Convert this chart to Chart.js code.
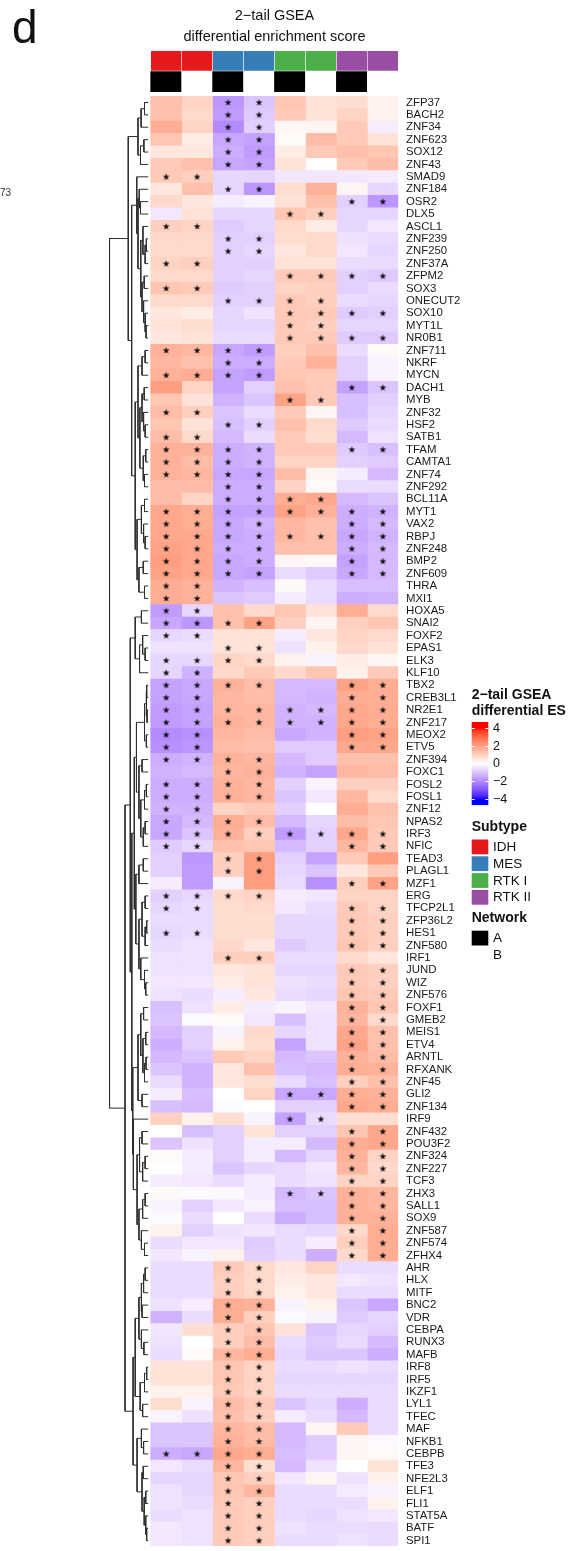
<!DOCTYPE html>
<html>
<head>
<meta charset="utf-8">
<title>2-tail GSEA differential enrichment score</title>
<script src="https://cdn.jsdelivr.net/npm/chart.js@4.4.1/dist/chart.umd.min.js"></script>
<style>
  html, body { margin: 0; padding: 0; background: #ffffff; }
  canvas { display: block; }
</style>
</head>
<body>
<canvas id="heatmap" width="585" height="1551"></canvas>
<script>
// ---------------------------------------------------------------------------
// Data
// ---------------------------------------------------------------------------
const genes = [
  'ZFP37','BACH2','ZNF34','ZNF623','SOX12','ZNF43','SMAD9','ZNF184','OSR2','DLX5',
  'ASCL1','ZNF239','ZNF250','ZNF37A','ZFPM2','SOX3','ONECUT2','SOX10','MYT1L','NR0B1',
  'ZNF711','NKRF','MYCN','DACH1','MYB','ZNF32','HSF2','SATB1','TFAM','CAMTA1',
  'ZNF74','ZNF292','BCL11A','MYT1','VAX2','RBPJ','ZNF248','BMP2','ZNF609','THRA',
  'MXI1','HOXA5','SNAI2','FOXF2','EPAS1','ELK3','KLF10','TBX2','CREB3L1','NR2E1',
  'ZNF217','MEOX2','ETV5','ZNF394','FOXC1','FOSL2','FOSL1','ZNF12','NPAS2','IRF3',
  'NFIC','TEAD3','PLAGL1','MZF1','ERG','TFCP2L1','ZFP36L2','HES1','ZNF580','IRF1',
  'JUND','WIZ','ZNF576','FOXF1','GMEB2','MEIS1','ETV4','ARNTL','RFXANK','ZNF45',
  'GLI2','ZNF134','IRF9','ZNF432','POU3F2','ZNF324','ZNF227','TCF3','ZHX3','SALL1',
  'SOX9','ZNF587','ZNF574','ZFHX4','AHR','HLX','MITF','BNC2','VDR','CEBPA',
  'RUNX3','MAFB','IRF8','IRF5','IKZF1','LYL1','TFEC','MAF','NFKB1','CEBPB',
  'TFE3','NFE2L3','ELF1','FLI1','STAT5A','BATF','SPI1'
];

// column annotations
const subtypes = ['IDH', 'IDH', 'MES', 'MES', 'RTK I', 'RTK I', 'RTK II', 'RTK II'];
const networks = ['A', 'B', 'A', 'B', 'A', 'B', 'A', 'B'];
const subtypeLevels = ['IDH', 'MES', 'RTK I', 'RTK II'];
const networkLevels = ['A', 'B'];

// differential enrichment score per column (rows follow `genes`)
const esIdhA = [
  1.3, 1.3, 1.7, 1.2, 0.5, 1.1, 1.1, 0.5, 0.8, -0.4,
  1.0, 0.8, 0.8, 0.9, 0.8, 1.2, 0.8, 0.5, 0.6, 0.5,
  1.6, 1.5, 1.6, 2.0, 1.2, 1.4, 1.2, 1.4, 1.6, 1.6,
  1.6, 1.4, 1.4, 1.8, 1.8, 1.8, 1.9, 2.0, 1.9, 1.7,
  1.7, -1.7, -1.5, -0.7, -0.5, -0.7, -0.7, -1.6, -1.6, -1.7,
  -1.7, -2.0, -1.9, -1.4, -1.3, -1.4, -1.4, -1.3, -1.5, -1.5,
  -0.9, -0.8, -0.8, -0.3, -0.8, -0.7, -0.6, -0.7, -0.6, -0.5,
  -0.5, -0.4, -0.5, -1.1, -1.0, -1.2, -1.4, -1.2, -1.0, -0.6,
  -0.3, -1.1, 1.0, 0.0, -1.0, 0.1, 0.0, -0.3, 0.1, -0.2,
  -0.1, 0.3, -0.6, -0.4, -0.6, -0.6, -0.6, -0.5, -1.3, -0.4,
  -0.5, -0.6, 0.6, 0.6, 0.3, 0.7, -0.2, -1.0, -1.0, -1.4,
  -0.4, -0.7, -0.5, -0.5, -0.6, -0.4, -0.4
];
const esIdhB = [
  0.9, 0.8, 0.9, 0.4, 0.5, 1.3, 1.0, 1.3, 0.5, 0.6,
  0.9, 0.8, 0.8, 1.0, 0.8, 1.1, 0.8, 0.4, 0.7, 0.6,
  1.5, 1.3, 1.7, 0.9, 0.6, 1.0, 0.6, 0.8, 1.6, 1.4,
  1.5, 1.4, 0.9, 1.7, 1.7, 1.8, 1.8, 1.8, 1.8, 1.6,
  1.6, -0.7, -1.8, -0.6, -0.5, -0.7, -1.3, -1.5, -1.5, -1.6,
  -1.6, -1.9, -1.8, -1.3, -1.2, -1.4, -1.4, -1.3, -1.2, -1.0,
  -0.7, -1.8, -1.7, -1.7, -0.7, -0.6, -0.6, -0.6, -0.5, -0.5,
  -0.5, -0.4, -0.6, -0.5, -0.1, -0.8, -0.8, -1.0, -1.3, -1.3,
  -1.1, -1.2, 0.3, -1.1, -0.5, -0.3, -0.3, -0.4, -0.1, -0.8,
  -0.6, -0.8, -0.4, -0.2, -0.6, -0.6, -0.6, -0.3, -0.6, 0.7,
  0.0, 0.1, 0.6, 0.6, 0.3, -0.2, -0.5, -1.0, -1.0, -1.5,
  -0.6, -0.7, -0.7, -0.6, -0.5, -0.5, -0.5
];
const esMesA = [
  -1.8, -1.7, -2.0, -1.5, -1.4, -1.5, -0.7, -0.7, -0.3, -0.7,
  -0.9, -0.8, -0.8, -0.8, -0.8, -0.9, -0.8, -0.7, -0.7, -0.6,
  -1.5, -1.4, -1.6, -1.6, -1.3, -1.0, -1.1, -1.2, -1.4, -1.4,
  -1.5, -1.4, -1.4, -1.6, -1.5, -1.5, -1.4, -1.5, -1.5, -1.3,
  -1.0, 1.3, 1.3, 0.6, 0.6, 0.9, 0.8, 1.6, 1.5, 1.5,
  1.6, 1.5, 1.4, 1.6, 1.5, 1.6, 1.6, 0.9, 1.7, 1.6,
  1.3, 1.0, 1.0, -0.2, 0.8, 0.7, 0.7, 0.7, 0.8, 1.0,
  0.5, 0.4, -0.3, 0.4, 0.1, -0.2, 0.3, 1.1, 0.5, 0.5,
  0.0, -0.1, 0.7, -0.8, -0.8, -0.8, -1.0, -0.6, -0.1, -0.4,
  0.0, -0.5, -0.4, 0.3, 1.1, 1.0, 1.0, 1.7, 1.7, 1.0,
  1.0, 1.5, 1.2, 1.2, 1.1, 1.4, 1.3, 1.5, 1.6, 1.8,
  1.5, 1.2, 1.2, 1.1, 1.1, 1.1, 1.1
];
const esMesB = [
  -1.0, -0.9, -0.8, -1.6, -1.7, -1.6, -0.7, -1.8, -0.2, -0.7,
  -0.7, -0.8, -0.7, -0.8, -0.7, -0.8, -0.8, -0.5, -0.7, -0.6,
  -1.7, -1.4, -1.7, -0.8, -1.0, -0.6, -0.8, -0.6, -1.3, -1.3,
  -1.5, -1.4, -1.4, -1.6, -1.3, -1.4, -1.4, -1.4, -1.6, -1.1,
  -0.9, 0.8, 1.9, 0.6, 0.6, 0.8, 1.1, 1.4, 1.4, 1.5,
  1.5, 1.4, 1.3, 1.5, 1.6, 1.5, 1.5, 1.1, 1.4, 1.0,
  1.2, 2.0, 2.0, 2.0, 0.9, 0.8, 0.7, 0.7, 0.5, 1.0,
  0.6, 0.6, 0.5, -0.3, -0.4, 0.8, 0.7, 0.9, 1.3, 0.7,
  0.9, 0.0, -0.2, 0.6, -0.3, -0.3, -0.7, -0.3, -0.3, -0.2,
  -0.6, -0.4, -0.9, -0.8, 0.8, 0.8, 0.8, 1.6, 1.0, 1.2,
  1.4, 1.7, 0.9, 0.9, 0.9, 1.1, 1.0, 1.4, 1.4, 1.7,
  0.7, 1.0, 1.5, 1.0, 1.0, 1.0, 1.0
];
const esRtk1A = [
  1.2, 1.1, 0.2, 0.1, 0.4, 0.6, -0.4, 0.7, 0.6, 1.2,
  0.8, 0.7, 0.5, 0.6, 1.1, 0.9, 1.1, 1.1, 1.1, 1.1,
  1.0, 1.1, 1.2, 1.3, 1.9, 1.1, 1.3, 1.1, 1.1, 0.9,
  1.4, 0.9, 1.7, 1.9, 1.5, 1.5, 1.3, 0.2, -0.6, 0.1,
  -0.3, 1.2, 1.0, -0.3, -0.5, 0.3, 0.8, -1.2, -1.2, -1.3,
  -1.3, -1.5, -0.9, -1.2, -1.3, -0.8, -1.0, -0.8, -1.2, -1.7,
  -1.2, -0.8, -0.7, -0.6, -0.3, -0.4, -0.7, -0.7, -0.9, -0.6,
  -0.7, -0.5, -0.6, -0.2, -1.1, -0.7, -1.6, -1.2, -1.1, -0.6,
  -1.5, -0.8, -1.6, -0.8, -0.3, -1.2, -0.6, -0.6, -1.2, -1.1,
  -1.4, -0.6, -0.6, -0.6, 0.5, 0.4, 0.3, -0.2, -0.1, 0.6,
  -0.6, -0.7, -0.6, -0.7, -0.6, -1.0, -0.3, -1.2, -1.2, -1.1,
  -1.2, -0.4, -0.6, -0.6, -0.6, -0.5, -0.6
];
const esRtk1B = [
  0.6, 0.6, 0.2, 1.4, 1.1, 0.0, -0.4, 1.6, 1.3, 1.0,
  0.4, 0.8, 0.8, 0.6, 1.1, 1.0, 1.0, 1.1, 1.0, 1.1,
  1.3, 1.6, 1.1, 1.1, 1.1, 0.2, 0.8, 0.7, 1.1, 0.9,
  0.2, 0.1, 1.8, 1.6, 1.3, 1.3, 1.3, 0.1, -0.9, -0.6,
  -0.6, 0.6, 0.2, 0.5, 0.3, -0.2, 1.2, -1.2, -1.3, -1.2,
  -1.3, -1.3, -0.9, -0.9, -1.6, -0.2, -0.4, 0.0, -0.7, -0.8,
  -0.8, -1.6, -1.0, -1.9, -0.4, -0.6, -0.7, -0.7, -0.7, -0.6,
  -0.7, -0.6, -0.7, -0.4, -0.5, -0.5, -0.5, -1.0, -1.2, -1.1,
  -1.5, -0.8, -0.6, -0.8, -1.2, -0.7, -0.4, -0.5, -1.0, -1.1,
  -1.1, -0.7, -0.3, -1.4, 0.9, 0.5, 0.5, 0.3, -0.2, -1.0,
  -0.9, -1.0, -0.6, -0.7, -0.6, -0.7, -0.6, 0.2, -0.9, -0.9,
  -0.5, 0.2, -0.6, -0.6, -0.7, -0.6, -0.6
];
const esRtk2A = [
  0.7, 0.9, 1.1, 1.1, 1.3, 1.1, -0.4, 0.2, -0.8, -0.7,
  -0.7, -0.5, -0.4, -0.6, -0.8, -0.8, -0.6, -0.9, -0.7, -0.9,
  -0.6, -0.8, -0.8, -1.6, -1.1, -1.1, -0.9, -1.2, -0.9, -0.8,
  -0.3, -0.6, -1.2, -1.4, -1.4, -1.5, -1.4, -1.6, -1.5, -1.1,
  -1.4, 1.7, 1.0, 0.9, 0.8, 0.4, 0.3, 1.9, 1.7, 1.8,
  1.8, 2.0, 1.8, 1.3, 1.5, 1.0, 1.5, 1.7, 1.4, 1.8,
  1.5, 1.1, 0.5, 1.0, 0.9, 1.1, 1.1, 1.1, 1.2, 0.8,
  1.1, 1.1, 1.2, 1.6, 1.5, 1.8, 1.9, 1.6, 1.7, 1.0,
  1.7, 1.8, 0.7, 1.2, 1.7, 1.6, 1.5, 0.9, 1.6, 1.6,
  1.6, 0.8, 1.0, 0.8, -0.6, -0.4, -0.6, -1.0, -0.9, -0.7,
  -0.6, -1.0, -0.5, -0.7, -0.6, -1.4, -1.2, 1.1, 0.2, 0.2,
  0.0, -0.5, -0.3, -0.6, -0.5, -0.6, -0.5
];
const esRtk2B = [
  0.3, 0.3, -0.3, 0.6, 1.2, 1.4, -0.3, -0.7, -1.8, -0.7,
  -0.4, -0.6, -0.7, -0.6, -0.9, -0.6, -0.7, -0.8, -0.7, -0.9,
  0.1, -0.2, -0.2, -1.0, -0.8, -0.7, -0.6, -0.5, -1.1, -0.9,
  -1.2, -0.6, -1.0, -1.3, -1.2, -1.3, -1.2, -1.2, -1.2, -1.1,
  -1.3, 0.8, 1.2, 0.8, 0.6, 0.2, 1.1, 1.7, 1.7, 1.7,
  1.7, 1.9, 1.8, 1.3, 1.4, 1.0, 0.8, 1.3, 1.2, 1.1,
  1.1, 2.0, 1.1, 1.9, 0.9, 0.9, 1.0, 1.0, 1.0, 0.5,
  1.0, 1.0, 1.1, 1.2, 0.8, 1.3, 1.3, 1.4, 1.6, 1.3,
  1.6, 1.7, 0.7, 1.8, 1.8, 0.9, 0.8, 0.9, 1.5, 1.5,
  1.6, 1.7, 1.7, 1.7, -0.6, -0.5, -0.6, -1.5, -0.7, -0.8,
  -1.2, -1.4, -0.6, -0.7, -0.6, -0.6, -0.6, -0.6, -0.1, 0.1,
  0.6, 0.3, -0.2, 0.3, -0.4, -0.6, -0.6
];
const esColumns = [esIdhA, esIdhB, esMesA, esMesB, esRtk1A, esRtk1B, esRtk2A, esRtk2B];

// significance per gene, one character per column ('*' = significant)
const stars = [
  '..**....', '..**....', '..**....', '..**....', '..**....', '..**....', '**......', '..**....', '......**', '....**..',
  '**......', '..**....', '..**....', '**......', '....****', '**......', '..****..', '....****', '....**..', '....****',
  '****....', '..**....', '****....', '......**', '....**..', '**......', '..**....', '**......', '****..**', '****....',
  '****....', '..**....', '..****..', '********', '****..**', '********', '****..**', '****..**', '****..**', '**......',
  '**......', '**......', '****....', '**......', '..**....', '****....', '**......', '****..**', '**....**', '********',
  '********', '**....**', '**....**', '****....', '..**....', '****....', '****....', '**......', '****....', '********',
  '**....**', '..**....', '..**....', '......**', '****....', '**....**', '......**', '**....**', '......**', '..**....',
  '......**', '......**', '......**', '......**', '......**', '......**', '......**', '......**', '......**', '......**',
  '....****', '......**', '....**..', '......**', '......**', '......**', '......**', '......**', '....****', '......**',
  '......**', '......**', '......**', '......**', '..**....', '..**....', '..**....', '..**....', '..**....', '..**....',
  '..**....', '..**....', '..**....', '..**....', '..**....', '..**....', '..**....', '..**....', '..**....', '****....',
  '..**....', '..**....', '..**....', '..**....', '..**....', '..**....', '..**....'
];

// row clustering: [mergeHeight, left, right]; integers are gene indices
const clusterTopA = [0.33, [0.23, [0.12, 0, 1], 2], [0.25, [0.14, 3, 4], 5]];
const clusterTopB = [0.37, 6, [0.33, [0.29, 7, [0.25, 8, 9]],
  [0.24, [0.17, 10, [0.1, [0.06, 11, 12], 13]], [0.2, [0.13, 14, 15], [0.15, 16, [0.1, 17, [0.07, 18, 19]]]]]]];
const clusterTopC = [0.42,
  [0.33, [0.2, [0.1, 20, 21], 22], [0.27, [0.2, [0.13, 23, 24], [0.15, 25, [0.1, 26, 27]]], [0.16, [0.08, 28, 29], [0.12, 30, 31]]]],
  [0.36, [0.22, [0.12, 32, 33], [0.15, 34, [0.1, 35, 36]]], [0.3, [0.16, 37, 38], [0.12, 39, 40]]]];
const clusterMidA = [0.42, [0.22, 41, 42], [0.28, [0.18, 43, [0.1, 44, 45]], 46]];
const clusterMidB = [0.12, [0.07, [0.05, 47, 48], [0.04, 49, 50]], [0.06, 51, 52]];
const clusterMidC = [0.3, [0.2, 53, 54], [0.24, [0.12, [0.06, 55, 56], 57], [0.16, [0.1, 58, 59], 60]]];
const clusterMidD = [0.3, [0.16, 61, 62], 63];
const clusterMidE = [0.3, [0.2, [0.1, 64, 65], [0.1, [0.05, 66, 67], 68]], [0.24, 69, [0.12, 70, [0.08, 71, 72]]]];
const clusterMidF = [0.33, [0.24, [0.15, 73, 74], [0.17, [0.08, 75, 76], [0.12, [0.07, 77, 78], 79]]], [0.2, 80, 81]];
const clusterMidG = [0.36, [0.28, [0.2, 83, 84], [0.18, [0.1, 85, 86], 87]],
  [0.3, [0.18, [0.1, 88, 89], 90], [0.22, 91, [0.12, 92, 93]]]];
const clusterLowA = [0.42,
  [0.3, [0.22, [0.15, [0.1, 94, 95], 96], [0.2, 97, 98]], [0.22, 99, [0.14, 100, 101]]],
  [0.26, [0.12, [0.05, 102, 103], 104], [0.18, 105, 106]]];
const clusterLowB = [0.36, [0.22, 107, [0.15, 108, 109]],
  [0.2, [0.16, 110, 111], [0.13, [0.08, 112, 113], [0.08, 114, [0.05, 115, 116]]]]];

const dendrogram = [1.25,
  [0.645, clusterTopA, [0.535, clusterTopB, clusterTopC]],
  [0.75,
    [0.58, clusterMidA,
      [0.53,
        [0.45, [0.38, clusterMidB, clusterMidC], [0.4, clusterMidD, clusterMidE]],
        [0.5, clusterMidF, [0.48, 82, clusterMidG]]]],
    [0.49, clusterLowA, clusterLowB]]];

const legendTicks = [4, 2, 0, -2, -4];

// ---------------------------------------------------------------------------
// Colours
// ---------------------------------------------------------------------------
const subtypeColors = { 'IDH': '#E41A1C', 'MES': '#377EB8', 'RTK I': '#4DAF4A', 'RTK II': '#984EA3' };
const networkColors = { 'A': '#000000', 'B': '#FFFFFF' };
const ES_LIMIT = 4;

function toLinear(c) { c /= 255; return c <= 0.04045 ? c / 12.92 : Math.pow((c + 0.055) / 1.055, 2.4); }
function toSrgb(c) {
  c = Math.max(0, Math.min(1, c));
  return Math.round(255 * (c <= 0.0031308 ? 12.92 * c : 1.055 * Math.pow(c, 1 / 2.4) - 0.055));
}
function rgbToLab(rgb) {
  const [R, G, B] = rgb.map(toLinear);
  const X = (0.4124 * R + 0.3576 * G + 0.1805 * B) / 0.95047;
  const Y = (0.2126 * R + 0.7152 * G + 0.0722 * B);
  const Z = (0.0193 * R + 0.1192 * G + 0.9505 * B) / 1.08883;
  const f = t => t > 0.008856 ? Math.cbrt(t) : 7.787 * t + 16 / 116;
  return [116 * f(Y) - 16, 500 * (f(X) - f(Y)), 200 * (f(Y) - f(Z))];
}
function labToRgb([L, a, b]) {
  const fy = (L + 16) / 116, fx = fy + a / 500, fz = fy - b / 200;
  const inv = t => (t * t * t > 0.008856 ? t * t * t : (t - 16 / 116) / 7.787);
  const X = 0.95047 * inv(fx), Y = inv(fy), Z = 1.08883 * inv(fz);
  return [
    toSrgb(3.2406 * X - 1.5372 * Y - 0.4986 * Z),
    toSrgb(-0.9689 * X + 1.8758 * Y + 0.0415 * Z),
    toSrgb(0.0557 * X - 0.2040 * Y + 1.0570 * Z)
  ];
}
const LAB_WHITE = rgbToLab([255, 255, 255]);
const LAB_RED = rgbToLab([255, 0, 0]);
const LAB_BLUE = rgbToLab([0, 0, 255]);

// diverging blue - white - red ramp, interpolated in Lab space
function esColor(v) {
  const t = Math.min(1, Math.abs(v) / ES_LIMIT);
  const end = v >= 0 ? LAB_RED : LAB_BLUE;
  const lab = LAB_WHITE.map((w, i) => w + (end[i] - w) * t);
  const [r, g, b] = labToRgb(lab);
  return `rgb(${r},${g},${b})`;
}

// ---------------------------------------------------------------------------
// Geometry helpers (axis units)
// ---------------------------------------------------------------------------
const Y_MIN = -3.674, Y_MAX = 116.93;
const X_MIN = -1.42, X_MAX = 8;
const SUBTYPE_BAND = [-3.674, -2.04];
const NETWORK_BAND = [-1.99, -0.36];
const LEAF_GAP = 0.08;
const FONT = '"Liberation Sans", Arial, Helvetica, sans-serif';

// rectangular dendrogram polylines, children joined at their parent height
function dendroSegments(node, out) {
  if (!Array.isArray(node)) return { y: node + 0.5, h: 0 };
  const [h, l, r] = node;
  const a = dendroSegments(l, out);
  const b = dendroSegments(r, out);
  const px = -(LEAF_GAP + h);
  out.push({ x: -(LEAF_GAP + a.h), y: a.y }, { x: px, y: a.y },
           { x: px, y: b.y }, { x: -(LEAF_GAP + b.h), y: b.y },
           { x: null, y: null });
  return { y: (a.y + b.y) / 2, h };
}
const dendroPoints = [];
dendroSegments(dendrogram, dendroPoints);

// small filled star used for significant cells
function makeStar() {
  const s = document.createElement('canvas');
  s.width = 9; s.height = 9;
  const g = s.getContext('2d');
  g.fillStyle = '#111111';
  g.beginPath();
  for (let i = 0; i < 10; i++) {
    const rad = i % 2 ? 1.45 : 3.6;
    const ang = -Math.PI / 2 + i * Math.PI / 5;
    const px = 4.5 + rad * Math.cos(ang), py = 4.7 + rad * Math.sin(ang);
    if (i === 0) g.moveTo(px, py); else g.lineTo(px, py);
  }
  g.closePath();
  g.fill();
  return s;
}

// ---------------------------------------------------------------------------
// Datasets
// ---------------------------------------------------------------------------
const cellDatasets = esColumns.map((vals, c) => ({
  label: subtypes[c] + ' ' + networks[c],
  order: 3,
  data: vals.map((v, r) => ({ x: c + 0.5, y: [r, r + 1] })),
  backgroundColor: vals.map(esColor),
  borderWidth: 0,
  barPercentage: 1,
  categoryPercentage: 1,
  grouped: false
}));

const annotationDatasets = [
  {
    label: 'Subtype', order: 3, grouped: false, barPercentage: 1, categoryPercentage: 1,
    data: subtypes.map((s, c) => ({ x: c + 0.5, y: SUBTYPE_BAND })),
    backgroundColor: subtypes.map(s => subtypeColors[s]),
    borderColor: 'rgba(255,255,255,0.45)', borderWidth: 0.6, borderSkipped: false
  },
  {
    label: 'Network', order: 3, grouped: false, barPercentage: 1, categoryPercentage: 1,
    data: networks.map((n, c) => ({ x: c + 0.5, y: NETWORK_BAND })),
    backgroundColor: networks.map(n => networkColors[n]),
    borderWidth: 0
  }
];

const starPoints = [];
stars.forEach((row, r) => {
  for (let c = 0; c < row.length; c++) {
    if (row[c] === '*') starPoints.push({ x: c + 0.5, y: r + 0.5 });
  }
});

const starDataset = {
  type: 'scatter', label: 'significant', order: 0,
  data: starPoints, pointStyle: makeStar(), pointRadius: 3
};

const dendroDataset = {
  type: 'line', label: 'clustering', order: 1,
  data: dendroPoints, borderColor: '#2e2e2e', borderWidth: 1,
  pointRadius: 0, fill: false, spanGaps: false, tension: 0
};

// ---------------------------------------------------------------------------
// Titles and legends
// ---------------------------------------------------------------------------
const decorations = {
  id: 'decorations',
  afterDraw(chart) {
    const ctx = chart.ctx;
    ctx.save();
    ctx.fillStyle = '#111111';
    ctx.textAlign = 'left';
    ctx.textBaseline = 'alphabetic';
    ctx.font = '46px ' + FONT;
    ctx.fillText('d', 12, 43);

    ctx.textBaseline = 'middle';
    ctx.font = '10px ' + FONT;
    ctx.fillStyle = '#333333';
    ctx.fillText('73', 0, 193);

    // column title, centred over the heatmap
    const xs = chart.scales.x;
    const cx = (xs.getPixelForValue(0) + xs.getPixelForValue(8)) / 2;
    ctx.fillStyle = '#111111';
    ctx.textAlign = 'center';
    ctx.font = '14.5px ' + FONT;
    ctx.fillText('2\u2212tail GSEA', cx, 15.5);
    ctx.fillText('differential enrichment score', cx, 36.5);

    // colour key
    const lx = 471.7, lw = 16.6, tx = 493;
    ctx.textAlign = 'left';
    ctx.font = 'bold 14px ' + FONT;
    ctx.fillText('2\u2212tail GSEA', lx, 695.5);
    ctx.fillText('differential ES', lx, 711);

    const keyY = v => 763.5 - v * 8.875;
    for (let y = 722; y < 805; y++) {
      const v = (763.5 - (y + 0.5)) / 8.875;
      ctx.fillStyle = esColor(v);
      ctx.fillRect(lx, y, lw, 1.1);
    }
    ctx.strokeStyle = '#ffffff';
    ctx.lineWidth = 1;
    ctx.font = '12.5px ' + FONT;
    legendTicks.forEach(v => {
      const y = Math.round(keyY(v)) + 0.5;
      ctx.beginPath();
      ctx.moveTo(lx, y); ctx.lineTo(lx + 3, y);
      ctx.moveTo(lx + lw - 3, y); ctx.lineTo(lx + lw, y);
      ctx.stroke();
      ctx.fillStyle = '#111111';
      ctx.fillText(v < 0 ? '\u2212' + Math.abs(v) : String(v), tx, keyY(v) + 0.5);
    });

    // subtype key
    ctx.font = 'bold 14px ' + FONT;
    ctx.fillText('Subtype', lx, 827);
    ctx.font = '13.5px ' + FONT;
    subtypeLevels.forEach((s, i) => {
      const top = 839.5 + i * 16.8;
      ctx.fillStyle = subtypeColors[s];
      ctx.fillRect(lx, top, lw, 14.8);
      ctx.fillStyle = '#111111';
      ctx.fillText(s, tx, top + 7.8);
    });

    // network key
    ctx.font = 'bold 14px ' + FONT;
    ctx.fillText('Network', lx, 918.5);
    ctx.font = '13.5px ' + FONT;
    networkLevels.forEach((n, i) => {
      const top = 930.7 + i * 16.8;
      ctx.fillStyle = networkColors[n];
      ctx.fillRect(lx, top, lw, 14.8);
      ctx.fillStyle = '#111111';
      ctx.fillText(n, tx, top + 7.3);
    });
    ctx.restore();
  }
};

// ---------------------------------------------------------------------------
// Chart
// ---------------------------------------------------------------------------
new Chart(document.getElementById('heatmap'), {
  type: 'bar',
  data: { datasets: [starDataset, dendroDataset, ...annotationDatasets, ...cellDatasets] },
  options: {
    responsive: false,
    animation: false,
    events: [],
    layout: { padding: { left: 106.75, right: 116.7, top: 50.7, bottom: 0 } },
    plugins: { legend: { display: false }, tooltip: { enabled: false } },
    scales: {
      x: {
        type: 'linear', min: X_MIN, max: X_MAX, display: false, offset: false,
        afterBuildTicks: axis => { axis.ticks = [0, 1, 2, 3, 4, 5, 6, 7, 8].map(v => ({ value: v })); }
      },
      y: { type: 'linear', min: Y_MIN, max: Y_MAX, reverse: true, display: false },
      genes: {
        type: 'linear', position: 'right', axis: 'y',
        min: Y_MIN, max: Y_MAX, reverse: true,
        grid: { display: false, drawTicks: false },
        border: { display: false },
        ticks: {
          autoSkip: false, padding: 7.7, color: '#1a1a1a',
          font: { family: FONT, size: 11.4 },
          callback: v => genes[Math.floor(v)]
        },
        afterBuildTicks: axis => { axis.ticks = genes.map((g, i) => ({ value: i + 0.5 })); },
        afterFit: axis => { axis.width = 70; axis.paddingTop = 0; axis.paddingBottom = 0; }
      }
    }
  },
  plugins: [decorations]
});
</script>
</body>
</html>
